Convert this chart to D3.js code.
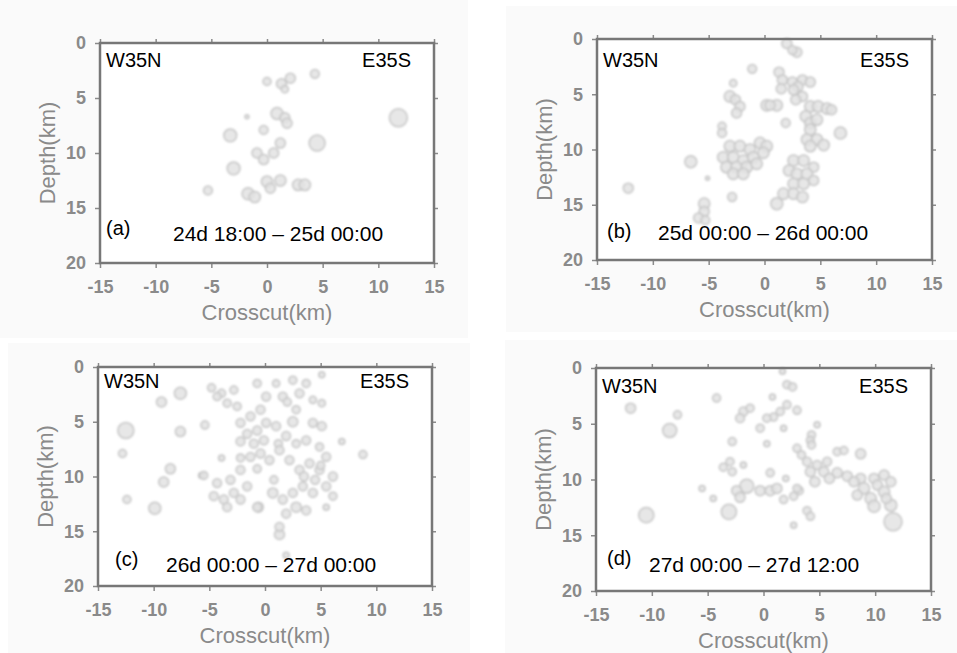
<!DOCTYPE html>
<html>
<head>
<meta charset="utf-8">
<script src="https://cdn.jsdelivr.net/npm/d3@7"></script>
<style>
  body { margin: 0; background: #fff; }
  svg { display: block; font-family: "Liberation Sans", Arial, sans-serif; }
</style>
</head>
<body>
<svg id="chart" width="957" height="653"></svg>
<script>
// Data: [crosscut km, depth km, magnitude]
const eventsA = [
  [0.0,3.5,2.0],[1.3,3.7,2.5],[2.1,3.2,2.5],[1.6,4.2,1.8],[4.3,2.8,2.2],[11.8,6.8,4.5],
  [-1.8,6.7,1.0],[0.9,6.4,3.0],[1.6,6.8,2.5],[1.8,7.3,2.5],[-0.3,7.9,2.2],[-3.3,8.4,3.2],
  [4.5,9.1,4.0],[1.2,9.1,2.5],[-0.9,10.0,2.5],[-0.3,10.6,2.5],[0.6,10.0,2.5],[-3.0,11.4,3.2],
  [-5.3,13.4,2.2],[-1.7,13.7,3.0],[-1.1,14.0,2.8],[0.0,12.6,2.8],[1.2,12.5,2.8],[0.3,13.2,2.5],
  [2.8,12.9,2.8],[3.4,12.9,2.8]
];
const eventsB = [
  [2.0,0.4,2.5],[2.9,1.2,2.5],[2.5,1.0,2.2],[-1.1,2.7,2.2],[1.3,3.0,2.5],[1.6,3.7,2.5],[2.5,3.9,2.5],
  [3.4,3.7,2.5],[4.1,3.9,2.5],[1.5,4.5,2.5],[3.0,4.3,2.5],[-2.8,4.0,1.8],[-3.1,5.2,2.8],[-2.6,5.5,2.5],
  [-2.2,6.1,2.5],[-2.5,6.7,2.5],[0.2,6.0,2.8],[1.1,6.0,2.8],[0.5,6.0,2.5],[2.6,4.6,2.5],[3.4,5.2,2.5],
  [2.8,5.5,2.5],[4.1,6.1,2.8],[4.8,6.1,2.8],[5.6,6.3,2.8],[6.0,6.4,2.5],[3.7,7.0,2.8],[4.1,7.6,2.8],
  [4.7,7.3,2.8],[4.1,8.2,2.8],[1.9,7.6,2.2],[-3.8,7.9,2.0],[-3.8,8.5,2.2],[6.8,8.5,3.0],[3.8,9.1,2.8],
  [4.7,9.1,2.8],[5.3,9.6,2.8],[4.1,9.7,2.8],
  [-3.1,9.7,2.8],[-2.2,9.7,2.8],[-1.3,10.0,2.8],[-0.4,9.4,2.8],[0.2,9.7,2.8],[-3.7,10.7,2.8],
  [-2.8,10.7,2.8],[-1.9,11.0,2.8],[-1.0,10.7,2.8],[-0.1,10.3,2.8],[-3.4,11.6,2.8],[-2.5,11.6,2.8],
  [-1.6,11.6,2.8],[-0.7,11.3,2.8],[-2.8,12.2,2.8],[-1.9,12.2,2.8],
  [-6.6,11.1,3.0],[-5.1,12.6,1.0],[-12.2,13.5,2.5],[-2.9,14.3,2.2],[-5.4,14.9,2.8],[-5.4,15.6,2.5],
  [-5.9,16.2,2.5],[-5.3,16.4,2.2],[1.1,14.9,3.0],
  [2.6,11.0,2.8],[3.5,11.0,2.8],[4.4,11.6,2.5],[2.2,11.9,2.8],[2.9,12.2,2.8],[3.8,12.2,2.8],
  [2.6,13.1,2.8],[3.5,13.1,2.8],[1.7,14.0,2.8],[2.6,14.0,2.8],[3.4,14.3,2.8],[4.4,12.8,2.5]
];
const eventsC = [
  [5.1,0.7,1.5],[-7.6,2.4,3.0],[-9.3,3.2,2.5],[-12.5,5.8,4.0],[-12.8,7.9,2.0],[-7.6,5.9,2.5],
  [-5.4,5.3,2.0],[-9.1,10.5,2.5],[-8.5,9.3,2.5],[-12.4,12.1,2.0],[-9.9,12.9,3.0],[-5.7,9.9,1.5],
  [-3.9,8.3,1.5],[8.8,8.0,2.0],[6.9,6.8,1.5],[5.5,12.8,1.5],[1.3,15.3,2.5],[1.9,17.2,1.5],[-0.6,12.8,2.5],
  [-4.8,1.9,2.0],[-3.9,2.4,2.0],[-2.8,2.1,2.0],[-3.4,3.3,2.0],[-2.5,3.6,2.0],[-0.7,1.5,2.0],
  [0.1,2.7,2.2],[1.0,1.5,1.8],[1.6,2.7,2.2],[2.5,1.2,2.0],[3.1,2.4,2.2],[3.7,1.5,2.0],[2.8,3.9,2.0],
  [4.3,3.0,1.8],[5.1,3.3,1.8],[-4.3,2.7,2.0],[2.0,3.2,2.0],
  [-2.2,5.1,2.2],[-1.3,4.5,2.2],[-0.4,3.9,2.2],[-1.6,6.1,2.2],[-0.7,5.8,2.2],[0.1,5.1,2.2],
  [-2.2,6.8,2.2],[-1.0,7.0,2.2],[-0.1,6.7,2.2],[1.0,5.4,2.2],[1.9,6.3,2.2],[2.5,5.0,2.5],
  [4.3,5.1,2.2],[5.1,5.4,2.2],[3.7,6.7,2.2],[4.9,7.3,2.0],[1.2,7.0,2.0],[2.8,7.0,2.0],
  [-1.3,8.2,2.2],[-0.4,7.9,2.2],[0.4,8.5,2.2],[1.3,7.6,2.2],[2.2,8.5,2.2],[3.1,9.4,2.2],
  [4.0,8.8,2.2],[4.9,9.4,2.2],[5.5,8.2,2.2],[6.1,10.0,2.2],[3.5,10.0,2.2],[4.5,10.3,2.2],[5.0,9.0,2.0],
  [-5.5,9.9,2.0],[-4.3,10.6,2.2],[-3.1,10.3,2.2],[-2.2,9.4,2.2],[-1.6,10.9,2.2],[-2.8,11.5,2.2],
  [-3.7,12.1,2.2],[-4.6,11.8,2.2],[-2.2,12.1,2.2],[-3.4,12.8,2.2],[-2.2,8.3,2.0],[-0.7,9.3,2.0],[0.8,10.3,2.0],
  [-0.7,12.8,2.2],[0.7,11.5,2.5],[1.6,12.1,2.2],[2.5,11.5,2.2],[3.4,10.9,2.2],[4.3,11.5,2.2],
  [2.8,12.8,2.5],[3.7,13.1,2.2],[1.9,13.4,2.2],[1.3,14.6,2.2],[5.5,10.9,2.2],[6.1,11.8,2.0]
];
const eventsD = [
  [1.7,0.3,1.5],[2.1,1.5,2.0],[2.6,1.7,2.0],[0.8,2.6,1.5],[-4.2,2.7,2.0],[-11.9,3.6,2.5],
  [-7.7,4.2,2.0],[-8.4,5.6,3.5],[2.1,3.3,2.0],[3.0,3.8,2.0],[1.5,3.9,2.0],[0.9,4.4,2.0],[0.3,4.5,2.0],
  [-1.8,3.9,2.2],[-2.1,4.5,2.2],[-1.2,3.6,2.0],[-0.3,5.4,2.0],[1.8,5.4,1.5],[4.8,5.1,1.5],[4.3,6.0,2.0],
  [4.2,6.5,2.0],[4.3,6.9,2.0],[-2.8,6.6,2.0],[0.3,6.8,1.5],[3.0,7.2,2.0],[3.4,7.8,2.0],[6.6,7.5,2.0],
  [7.2,7.4,2.0],[8.7,7.7,2.5],[-3.0,8.4,2.0],[-3.6,8.9,2.0],[-2.8,9.3,2.0],[-1.8,8.7,1.5],[0.6,9.4,2.0],
  [3.9,8.4,2.2],[4.8,8.7,2.2],[5.7,8.4,2.2],[4.2,9.3,2.5],[5.4,9.3,2.5],[6.6,9.4,2.5],[7.5,9.7,2.5],
  [8.7,9.9,2.5],[9.9,9.9,2.5],[10.8,9.6,2.5],[11.4,10.2,2.5],[4.6,10.2,2.5],[5.9,9.9,2.5],[8.1,10.2,2.5],
  [9.0,10.8,2.8],[10.2,10.5,2.5],[8.4,11.4,2.5],[9.6,11.7,2.8],[10.8,11.1,2.8],[9.9,12.4,3.0],
  [11.4,12.3,3.0],[11.6,13.8,4.5],[11.0,11.7,2.5],
  [-5.5,10.8,1.5],[-4.5,11.7,1.5],[-10.5,13.2,3.8],[-3.1,12.9,3.8],[-1.5,10.6,3.5],[-2.4,11.0,2.5],
  [-2.1,11.6,2.5],[-0.3,11.0,2.5],[0.6,11.0,2.5],[1.2,10.8,2.5],[2.0,9.9,1.5],[1.8,11.8,2.0],
  [2.7,11.5,2.0],[3.2,11.0,2.0],[3.0,10.8,2.0],[3.9,12.8,2.0],[4.2,13.3,2.0],[2.7,14.1,1.5]
];

const panelLetters = ["(a)", "(b)", "(c)", "(d)"];
const timeRanges = ["24d 18:00 \u2013 25d 00:00", "25d 00:00 \u2013 26d 00:00",
                    "26d 00:00 \u2013 27d 00:00", "27d 00:00 \u2013 27d 12:00"];
const xTicks = [-15, -10, -5, 0, 5, 10, 15];
const yTicks = [0, 5, 10, 15, 20];
const leftLabel = "W35N";
const rightLabel = "E35S";
const xTitle = "Crosscut(km)";
const yTitle = "Depth(km)";

// Layout of the four panels (frame box + text offsets)
const layout = [
  {bg: [0, 0, 468, 338],   x0: 100, y0: 43,  x1: 434, y1: 263, letterX: 6,  letterY: -28, dateX: 73, dateY: -22, topY: 24},
  {bg: [506, 6, 451, 326], x0: 597, y0: 39,  x1: 932, y1: 260, letterX: 10, letterY: -22, dateX: 61, dateY: -20, topY: 28},
  {bg: [8, 343, 462, 310], x0: 98,  y0: 367, x1: 432, y1: 586, letterX: 17, letterY: -20, dateX: 68, dateY: -14, topY: 21},
  {bg: [505, 340, 452, 313], x0: 596, y0: 368, x1: 931, y1: 591, letterX: 11, letterY: -26, dateX: 53, dateY: -19, topY: 25}
];
const allEvents = [eventsA, eventsB, eventsC, eventsD];

const svg = d3.select("#chart");

// soft blur for the scanned-looking markers
const defs = svg.append("defs");
defs.append("filter").attr("id", "soft")
  .attr("x", "-20%").attr("y", "-20%").attr("width", "140%").attr("height", "140%")
  .append("feGaussianBlur").attr("stdDeviation", 0.8);

const rScale = d3.scaleLinear().domain([1, 4.5]).range([2, 9]);
const tickGrey = "#8a8a8a";

layout.forEach((p, i) => {
  // panel background
  svg.append("rect")
    .attr("x", p.bg[0]).attr("y", p.bg[1])
    .attr("width", p.bg[2]).attr("height", p.bg[3])
    .attr("fill", "#fafafa");

  const x = d3.scaleLinear().domain([-15, 15]).range([p.x0, p.x1]);
  const y = d3.scaleLinear().domain([0, 20]).range([p.y0, p.y1]);
  const g = svg.append("g");

  g.append("rect")
    .attr("x", p.x0).attr("y", p.y0)
    .attr("width", p.x1 - p.x0).attr("height", p.y1 - p.y0)
    .attr("fill", "#ffffff");

  // events
  g.append("g")
    .attr("filter", "url(#soft)")
    .selectAll("circle")
    .data(allEvents[i])
    .join("circle")
    .attr("cx", d => x(d[0]))
    .attr("cy", d => y(d[1]))
    .attr("r", d => rScale(d[2]))
    .attr("fill", "#e3e3e3")
    .attr("fill-opacity", 0.85)
    .attr("stroke", "#c6c6c6")
    .attr("stroke-width", 1.5);

  // axes
  const bottom = g.append("g")
    .attr("transform", `translate(0,${p.y1})`)
    .call(d3.axisBottom(x).tickValues(xTicks).tickSize(5).tickPadding(12).tickFormat(d => String(d)));
  const left = g.append("g")
    .attr("transform", `translate(${p.x0},0)`)
    .call(d3.axisLeft(y).tickValues(yTicks).tickSize(5).tickPadding(9).tickFormat(d => String(d)));
  const top = g.append("g")
    .attr("transform", `translate(0,${p.y0})`)
    .call(d3.axisTop(x).tickValues(xTicks).tickSize(4).tickFormat(""));
  const right = g.append("g")
    .attr("transform", `translate(${p.x1},0)`)
    .call(d3.axisRight(y).tickValues(yTicks).tickSize(4).tickFormat(""));

  [bottom, left, top, right].forEach(a => {
    a.select(".domain").remove();
    a.selectAll(".tick line").attr("stroke", "#8a8a8a").attr("stroke-width", 1.5);
    a.selectAll(".tick text")
      .attr("fill", tickGrey)
      .style("font-size", "18px")
      .style("font-weight", "bold");
  });

  // frame
  g.append("rect")
    .attr("x", p.x0).attr("y", p.y0)
    .attr("width", p.x1 - p.x0).attr("height", p.y1 - p.y0)
    .attr("fill", "none")
    .attr("stroke", "#777777")
    .attr("stroke-width", 2.5);

  // axis titles
  g.append("text")
    .attr("x", (p.x0 + p.x1) / 2)
    .attr("y", p.y1 + 57)
    .attr("text-anchor", "middle")
    .attr("fill", tickGrey)
    .style("font-size", "22px")
    .text(xTitle);

  g.append("text")
    .attr("transform", `translate(${p.x0 - 45},${(p.y0 + p.y1) / 2}) rotate(-90)`)
    .attr("text-anchor", "middle")
    .attr("fill", tickGrey)
    .style("font-size", "22px")
    .text(yTitle);

  // labels inside the frame
  g.append("text")
    .attr("x", p.x0 + 6).attr("y", p.y0 + p.topY)
    .style("font-size", "20px")
    .text(leftLabel);
  g.append("text")
    .attr("x", p.x1 - 23).attr("y", p.y0 + p.topY)
    .attr("text-anchor", "end")
    .style("font-size", "20px")
    .text(rightLabel);
  g.append("text")
    .attr("x", p.x0 + p.letterX).attr("y", p.y1 + p.letterY)
    .style("font-size", "20px")
    .text(panelLetters[i]);
  g.append("text")
    .attr("x", p.x0 + p.dateX).attr("y", p.y1 + p.dateY)
    .style("font-size", "21px")
    .text(timeRanges[i]);
});
</script>
</body>
</html>
